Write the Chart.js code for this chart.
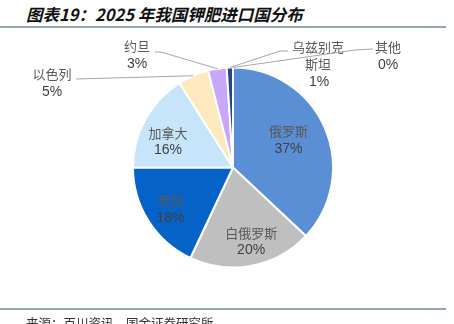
<!DOCTYPE html>
<html>
<head>
<meta charset="utf-8">
<script src="https://cdn.jsdelivr.net/npm/chart.js@4/dist/chart.umd.min.js"></script>
<style>
  html, body { margin: 0; padding: 0; background: #fff; }
  #page { position: relative; width: 454px; height: 324px; overflow: hidden; font-family: "Noto Sans CJK SC", sans-serif; }
  #title { position: absolute; left: 26px; top: 2px; font-size: 16.5px; font-weight: bold; font-style: italic; color: #111; white-space: nowrap; }
  .rule { position: absolute; left: 0; width: 446px; height: 2px; background: #93a6b0; }
  #source { position: absolute; left: 26px; top: 313px; font-size: 12.5px; color: #333; white-space: nowrap; }
  #pie { position: absolute; left: 0; top: 0; }
</style>
</head>
<body>
<div id="page">
  <div id="title">图表19：2025 年我国钾肥进口国分布</div>
  <div class="rule" style="top:26px"></div>
  <canvas id="pie" width="454" height="324"></canvas>
  <div class="rule" style="top:308px"></div>
  <div id="source">来源：百川资讯，国金证券研究所</div>
</div>
<script>
// import share by origin country, %
const countries = ['俄罗斯', '白俄罗斯', '老挝', '加拿大', '以色列', '约旦', '乌兹别克斯坦', '其他'];
const shares = [37, 20, 18, 16, 5, 3, 1, 0];
const sliceColors = ['#5a8ed5', '#bfbfbf', '#0563c7', '#c6e5fb', '#fde9bd', '#c9a6f8', '#23497f', '#7f7f7f'];

// how each slice gets its label: inside (radial factor, angle nudge in degrees)
// or outside with a leader line
const labelLayout = {
  0: { inside: 0.62, turn: -3 },
  1: { inside: 0.76, turn: -3 },
  2: { inside: 0.75, turn: -1 },
  3: { inside: 0.70, turn: -7 },
  4: { lines: ['以色列'], at: [52, 74], leader: [[76, 79]] },
  5: { lines: ['约旦'], at: [137, 46], leader: [[161, 52], [155, 52]] },
  6: { lines: ['乌兹别克', '斯坦'], at: [318, 47], leader: [[280, 51], [288, 51]] },
  7: { lines: ['其他'], at: [388, 47], leader: [[355, 50], [373, 49]] }
};

const NAME_FONT = '13px "Noto Sans CJK SC", sans-serif';
const PCT_FONT = '14px "Liberation Sans", Arial, sans-serif';

const sliceLabels = {
  id: 'sliceLabels',
  afterDatasetsDraw(chart) {
    const ctx = chart.ctx;
    const arcs = chart.getDatasetMeta(0).data;
    ctx.save();
    ctx.textAlign = 'center';
    ctx.textBaseline = 'middle';
    arcs.forEach((arc, i) => {
      const cfg = labelLayout[i];
      const { x, y, startAngle, endAngle, outerRadius } = arc.getProps(['x', 'y', 'startAngle', 'endAngle', 'outerRadius'], true);
      const mid = (startAngle + endAngle) / 2;
      const pct = shares[i] + '%';
      if (cfg.inside) {
        const a = mid + (cfg.turn || 0) * Math.PI / 180;
        const cx = x + Math.cos(a) * outerRadius * cfg.inside;
        const cy = y + Math.sin(a) * outerRadius * cfg.inside;
        ctx.font = NAME_FONT;
        ctx.fillStyle = '#595959';
        ctx.fillText(countries[i], cx, cy - 8.5);
        ctx.font = PCT_FONT;
        ctx.fillStyle = '#404040';
        ctx.fillText(pct, cx, cy + 9);
        return;
      }
      // leader line from the slice edge out to the label
      ctx.beginPath();
      ctx.moveTo(x + Math.cos(mid) * outerRadius, y + Math.sin(mid) * outerRadius);
      cfg.leader.forEach(p => ctx.lineTo(p[0], p[1]));
      ctx.strokeStyle = '#a6a6a6';
      ctx.lineWidth = 1;
      ctx.stroke();
      let ly = cfg.at[1];
      ctx.font = NAME_FONT;
      ctx.fillStyle = '#595959';
      cfg.lines.forEach(t => { ctx.fillText(t, cfg.at[0], ly); ly += 17.5; });
      ctx.font = PCT_FONT;
      ctx.fillStyle = '#404040';
      ctx.fillText(pct, cfg.at[0] + (cfg.lines.length > 1 ? 1 : 0), ly + 0.5);
    });
    ctx.restore();
  }
};

new Chart(document.getElementById('pie'), {
  type: 'pie',
  data: {
    labels: countries,
    datasets: [{
      data: shares,
      backgroundColor: sliceColors,
      borderColor: '#ffffff',
      borderWidth: 2
    }]
  },
  options: {
    responsive: false,
    animation: false,
    layout: { padding: { left: 132, right: 120, top: 66.5, bottom: 55.5 } },
    plugins: {
      legend: { display: false },
      tooltip: { enabled: false }
    }
  },
  plugins: [sliceLabels]
});
</script>
</body>
</html>
